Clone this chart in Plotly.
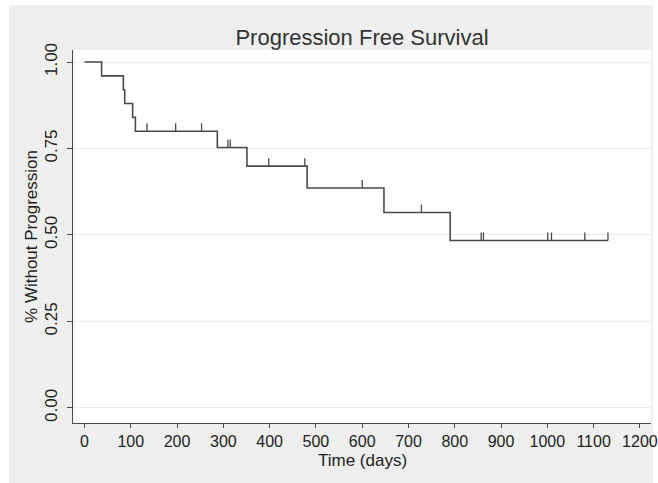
import plotly.graph_objects as go

# Kaplan-Meier step curve (time in days, proportion without progression)
step_times = [0, 37, 84, 87, 104, 110, 287, 351, 481, 647, 790, 1131]
step_surv = [1.00, 0.96, 0.92, 0.88, 0.84, 0.80, 0.753, 0.699, 0.636, 0.565, 0.484, 0.484]

# Censored observations (tick marks)
cens_times = [135, 197, 253, 310, 315, 398, 476, 600, 728, 857, 862, 1001, 1009, 1081, 1131]
cens_surv = [0.80, 0.80, 0.80, 0.753, 0.753, 0.699, 0.699, 0.636, 0.565,
             0.484, 0.484, 0.484, 0.484, 0.484, 0.484]

x_ticks = list(range(0, 1201, 100))
y_ticks = [0.0, 0.25, 0.5, 0.75, 1.0]
y_tick_labels = ["0.00", "0.25", "0.50", "0.75", "1.00"]

LINE = "#4a4a4a"
FONT = "Liberation Sans, Arial, sans-serif"
TICK_H = 0.023

fig = go.Figure()
fig.add_trace(go.Scatter(
    x=step_times, y=step_surv, mode="lines", line_shape="hv",
    line=dict(color=LINE, width=1.6), hoverinfo="x+y", showlegend=False))
fig.add_trace(go.Scatter(
    x=cens_times, y=cens_surv, mode="markers",
    marker=dict(size=1, color=LINE, opacity=0),
    error_y=dict(type="data", symmetric=False,
                 array=[TICK_H] * len(cens_times),
                 arrayminus=[0] * len(cens_times),
                 color=LINE, thickness=1.3, width=0),
    showlegend=False, hoverinfo="x+y"))

W, H = 658, 483
L, R, T, B = 73, 7, 50, 60
pw, ph = W - L - R, H - T - B
shapes = [
    # white strips framing the grey chart background
    dict(type="rect", xref="paper", yref="paper", layer="below",
         x0=-L / pw, x1=-(L - 9) / pw, y0=-B / ph, y1=1 + T / ph,
         fillcolor="white", line_width=0),
    dict(type="rect", xref="paper", yref="paper", layer="below",
         x0=-L / pw, x1=1 + R / pw, y0=1 + (T - 5) / ph, y1=1 + T / ph,
         fillcolor="white", line_width=0),
    dict(type="rect", xref="paper", yref="paper", layer="below",
         x0=1 + 2 / pw, x1=1 + R / pw, y0=-B / ph, y1=1 + T / ph,
         fillcolor="white", line_width=0),
]

fig.update_layout(
    width=W, height=H,
    margin=dict(l=L, r=R, t=T, b=B, autoexpand=False),
    paper_bgcolor="#efefef", plot_bgcolor="white",
    font=dict(family=FONT, size=17, color="#222222"),
    title=dict(text="Progression Free Survival", x=(L + pw / 2) / W, xanchor="center",
               y=1 - 37 / H, yanchor="middle",
               font=dict(family=FONT, size=22, color="#333333")),
    shapes=shapes,
    annotations=[dict(text="Time (days)", xref="paper", yref="paper",
                      x=0.5, y=-37 / ph, xanchor="center", yanchor="middle",
                      showarrow=False, font=dict(size=17))],
    xaxis=dict(range=[-24.8, 1224], tickmode="array", tickvals=x_ticks,
               showgrid=False, zeroline=False, showline=True, linecolor=LINE, linewidth=1,
               ticks="outside", ticklen=4, tickcolor=LINE, tickwidth=1,
               tickfont=dict(size=16), ticklabeloverflow="allow", fixedrange=True),
    yaxis=dict(range=[-0.0434, 1.0347], tickmode="array", tickvals=y_ticks,
               ticktext=y_tick_labels, tickangle=-90,
               showgrid=True, gridcolor="#ebebeb", gridwidth=1,
               zeroline=False, showline=True, linecolor=LINE, linewidth=1,
               ticks="outside", ticklen=5, tickcolor=LINE, tickwidth=1,
               tickfont=dict(size=17), ticklabelstandoff=3, fixedrange=True,
               title=dict(text="% Without Progression", standoff=0, font=dict(size=17))),
)

fig.write_html("out.html", config={"displayModeBar": False},
               post_script="document.body.style.margin='0';document.body.style.overflow='hidden';")
